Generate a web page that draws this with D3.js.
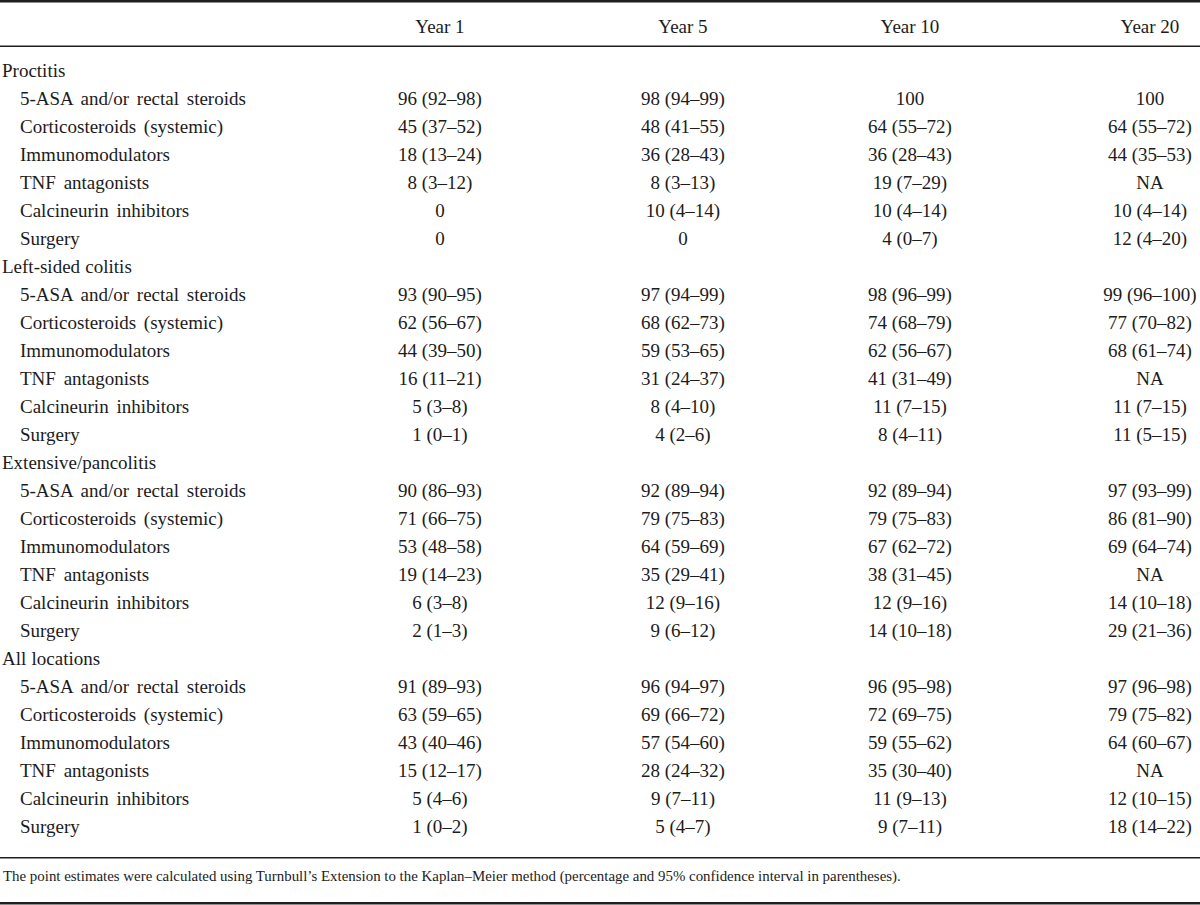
<!DOCTYPE html>
<html>
<head>
<meta charset="utf-8">
<script src="https://cdn.jsdelivr.net/npm/d3@7"></script>
<style>
  html, body { margin: 0; padding: 0; background: #fff; }
  svg { display: block; }
  text { font-family: "Liberation Serif", "Times New Roman", serif; fill: #1c1c1c; }
</style>
</head>
<body>
<svg id="chart" width="1200" height="905"></svg>
<script>
// ---- Data ----
const years = ["Year 1", "Year 5", "Year 10", "Year 20"];
const groups = ["Proctitis", "Left-sided colitis", "Extensive/pancolitis", "All locations"];
const treatments = [
  "5-ASA and/or rectal steroids",
  "Corticosteroids (systemic)",
  "Immunomodulators",
  "TNF antagonists",
  "Calcineurin inhibitors",
  "Surgery"
];
const proctitis = [
  ["96 (92–98)", "98 (94–99)", "100", "100"],
  ["45 (37–52)", "48 (41–55)", "64 (55–72)", "64 (55–72)"],
  ["18 (13–24)", "36 (28–43)", "36 (28–43)", "44 (35–53)"],
  ["8 (3–12)", "8 (3–13)", "19 (7–29)", "NA"],
  ["0", "10 (4–14)", "10 (4–14)", "10 (4–14)"],
  ["0", "0", "4 (0–7)", "12 (4–20)"]
];
const leftSided = [
  ["93 (90–95)", "97 (94–99)", "98 (96–99)", "99 (96–100)"],
  ["62 (56–67)", "68 (62–73)", "74 (68–79)", "77 (70–82)"],
  ["44 (39–50)", "59 (53–65)", "62 (56–67)", "68 (61–74)"],
  ["16 (11–21)", "31 (24–37)", "41 (31–49)", "NA"],
  ["5 (3–8)", "8 (4–10)", "11 (7–15)", "11 (7–15)"],
  ["1 (0–1)", "4 (2–6)", "8 (4–11)", "11 (5–15)"]
];
const extensive = [
  ["90 (86–93)", "92 (89–94)", "92 (89–94)", "97 (93–99)"],
  ["71 (66–75)", "79 (75–83)", "79 (75–83)", "86 (81–90)"],
  ["53 (48–58)", "64 (59–69)", "67 (62–72)", "69 (64–74)"],
  ["19 (14–23)", "35 (29–41)", "38 (31–45)", "NA"],
  ["6 (3–8)", "12 (9–16)", "12 (9–16)", "14 (10–18)"],
  ["2 (1–3)", "9 (6–12)", "14 (10–18)", "29 (21–36)"]
];
const allLocations = [
  ["91 (89–93)", "96 (94–97)", "96 (95–98)", "97 (96–98)"],
  ["63 (59–65)", "69 (66–72)", "72 (69–75)", "79 (75–82)"],
  ["43 (40–46)", "57 (54–60)", "59 (55–62)", "64 (60–67)"],
  ["15 (12–17)", "28 (24–32)", "35 (30–40)", "NA"],
  ["5 (4–6)", "9 (7–11)", "11 (9–13)", "12 (10–15)"],
  ["1 (0–2)", "5 (4–7)", "9 (7–11)", "18 (14–22)"]
];
const footnote = "The point estimates were calculated using Turnbull’s Extension to the Kaplan–Meier method (percentage and 95% confidence interval in parentheses).";

// ---- Build rows ----
const groupData = [proctitis, leftSided, extensive, allLocations];
const rows = [];
groups.forEach((g, gi) => {
  rows.push({ type: "group", label: g, values: [] });
  treatments.forEach((t, ti) => {
    rows.push({ type: "item", label: t, values: groupData[gi][ti] });
  });
});

// ---- Layout ----
const W = 1200;
const svg = d3.select("#chart");
const x = d3.scaleOrdinal().domain(years).range([440, 683, 910, 1150]);
const y = d3.scaleLinear().domain([0, rows.length - 1]).range([77, 77 + 28 * (rows.length - 1)]);
const fs = 19;
const lineColor = "#1f1f1f";

// rules
svg.append("rect").attr("x", 0).attr("y", 0).attr("width", W).attr("height", 2.5).attr("fill", lineColor);
svg.append("rect").attr("x", 0).attr("y", 45.5).attr("width", W).attr("height", 1.5).attr("fill", lineColor);
svg.append("rect").attr("x", 0).attr("y", 857).attr("width", W).attr("height", 1.5).attr("fill", lineColor);
svg.append("rect").attr("x", 0).attr("y", 902).attr("width", W).attr("height", 2.5).attr("fill", lineColor);

// header
svg.append("g").selectAll("text").data(years).join("text")
  .attr("x", d => x(d)).attr("y", 33)
  .attr("text-anchor", "middle").attr("font-size", fs)
  .text(d => d);

// body rows
const rowG = svg.append("g").selectAll("g").data(rows).join("g")
  .attr("transform", (d, i) => `translate(0,${y(i)})`);
rowG.append("text")
  .attr("x", d => d.type === "group" ? 2 : 20)
  .attr("font-size", fs)
  .attr("word-spacing", d => d.type === "group" ? 0.5 : 3)
  .text(d => d.label);
rowG.selectAll("text.val").data(d => d.values.map((v, j) => ({ v, year: years[j] }))).join("text")
  .attr("class", "val")
  .attr("x", d => x(d.year))
  .attr("text-anchor", "middle")
  .attr("font-size", fs)
  .text(d => d.v);

// footnote
svg.append("text").attr("x", 3).attr("y", 881).attr("font-size", 14.9).text(footnote);
</script>
</body>
</html>
